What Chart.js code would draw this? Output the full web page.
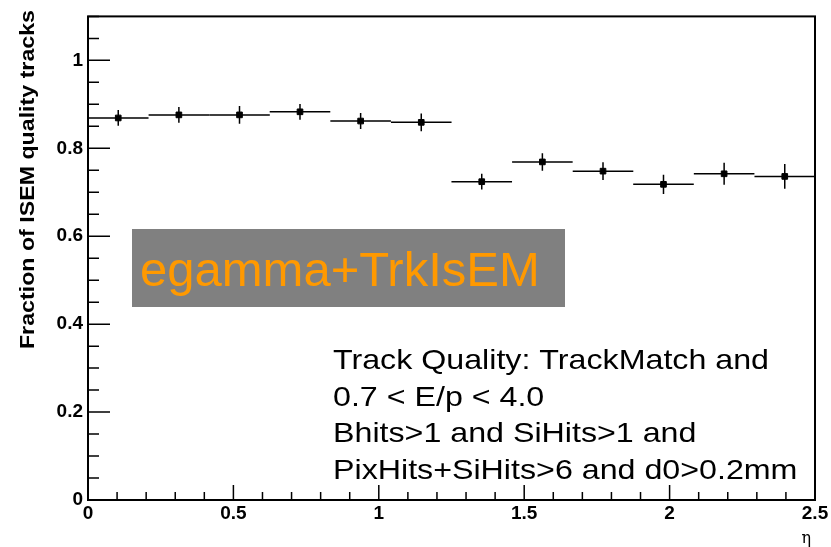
<!DOCTYPE html>
<html><head><meta charset="utf-8">
<script src="https://cdn.jsdelivr.net/npm/chart.js@4"></script>
<style>html,body{margin:0;padding:0;background:#fff}#c{display:block}</style>
</head><body>
<canvas id="c" width="831" height="547"></canvas>
<script>
// data
const binWidth = 2.5 / 12;
const binCenters = [0.104, 0.3125, 0.521, 0.729, 0.9375, 1.146, 1.354, 1.5625, 1.771, 1.979, 2.1875, 2.396];
const fractions = [0.869, 0.876, 0.876, 0.883, 0.862, 0.859, 0.724, 0.769, 0.748, 0.718, 0.742, 0.736];
const errors = [0.018, 0.018, 0.02, 0.018, 0.018, 0.02, 0.018, 0.02, 0.02, 0.022, 0.025, 0.028];
const xTicks = [0, 0.5, 1, 1.5, 2, 2.5];
const yTicks = [0, 0.2, 0.4, 0.6, 0.8, 1];
const infoLines = ['Track Quality: TrackMatch and', '0.7 < E/p < 4.0', 'Bhits>1 and SiHits>1 and', 'PixHits+SiHits>6 and d0>0.2mm'];

const rootStyle = {
  id: 'rootStyle',
  afterDatasetsDraw(chart) {
    const {ctx, chartArea: a, scales: {x, y}} = chart;
    ctx.save();
    ctx.strokeStyle = '#000';
    ctx.lineWidth = 1.5;
    // bins and error bars
    binCenters.forEach((c, i) => {
      const py = y.getPixelForValue(fractions[i]);
      ctx.beginPath();
      ctx.moveTo(x.getPixelForValue(c - binWidth / 2), py);
      ctx.lineTo(x.getPixelForValue(c + binWidth / 2), py);
      ctx.moveTo(x.getPixelForValue(c), y.getPixelForValue(fractions[i] - errors[i]));
      ctx.lineTo(x.getPixelForValue(c), y.getPixelForValue(fractions[i] + errors[i]));
      ctx.stroke();
    });
    // frame
    ctx.lineWidth = 2;
    ctx.strokeRect(a.left, a.top, a.right - a.left, a.bottom - a.top);
    // ticks
    ctx.lineWidth = 1.5;
    ctx.beginPath();
    for (let v = 0; v <= 1.1001; v += 0.05) {
      const py = y.getPixelForValue(v);
      const len = Math.abs(v / 0.2 - Math.round(v / 0.2)) < 0.01 ? 22 : 11;
      ctx.moveTo(a.left, py); ctx.lineTo(a.left + len, py);
    }
    for (let v = 0; v <= 2.5001; v += 0.1) {
      const px = x.getPixelForValue(v);
      const len = Math.abs(v / 0.5 - Math.round(v / 0.5)) < 0.01 ? 15 : 8;
      ctx.moveTo(px, a.bottom); ctx.lineTo(px, a.bottom - len);
    }
    ctx.stroke();
    // axis titles
    ctx.fillStyle = '#000';
    ctx.font = 'bold 20px "Liberation Sans", Arial';
    ctx.save();
    ctx.translate(28, 10);
    ctx.rotate(-Math.PI / 2);
    ctx.scale(1.16, 1);
    ctx.textAlign = 'right'; ctx.textBaseline = 'middle';
    ctx.fillText('Fraction of ISEM quality tracks', 0, 0);
    ctx.restore();
    ctx.font = '16px "DejaVu Serif", serif';
    ctx.textAlign = 'right'; ctx.textBaseline = 'alphabetic';
    ctx.fillText('η', a.right - 4, 543);
    // labels box
    ctx.fillStyle = '#808080';
    ctx.fillRect(132, 229, 433, 78);
    ctx.fillStyle = '#ff9900';
    ctx.font = '49px "Liberation Sans", Arial';
    ctx.textAlign = 'left'; ctx.textBaseline = 'alphabetic';
    ctx.fillText('egamma+TrkIsEM', 140, 286);
    ctx.fillStyle = '#000';
    ctx.font = '28px "Liberation Sans", Arial';
    ctx.save();
    ctx.translate(333, 0);
    ctx.scale(1.15, 1);
    infoLines.forEach((t, i) => ctx.fillText(t, 0, 369 + i * 36.5));
    ctx.restore();
    ctx.restore();
  }
};

const tickFont = {family: '"Liberation Sans", Arial', size: 19, weight: 'bold'};
new Chart(document.getElementById('c'), {
  type: 'scatter',
  data: {
    datasets: [{
      data: binCenters.map((c, i) => ({x: c, y: fractions[i]})),
      pointStyle: 'rect', pointRadius: 4, backgroundColor: '#000', borderColor: '#000'
    }]
  },
  options: {
    responsive: false, animation: false,
    layout: {padding: {top: 12, right: 16, left: 0, bottom: 0}},
    plugins: {legend: {display: false}, tooltip: {enabled: false}},
    scales: {
      x: {
        min: 0, max: 2.5,
        afterBuildTicks: s => { s.ticks = xTicks.map(v => ({value: v})); },
        afterFit: s => { s.height = 47; },
        grid: {display: false, drawTicks: false}, border: {display: false},
        ticks: {color: '#000', font: tickFont, padding: 2, maxRotation: 0, callback: v => String(v)}
      },
      y: {
        min: 0, max: 1.1,
        afterBuildTicks: s => { s.ticks = yTicks.map(v => ({value: v})); },
        afterFit: s => { s.width = 88; },
        grid: {display: false, drawTicks: false}, border: {display: false},
        ticks: {color: '#000', font: tickFont, padding: 5, callback: v => String(v)}
      }
    }
  },
  plugins: [rootStyle]
});
</script>
</body></html>
